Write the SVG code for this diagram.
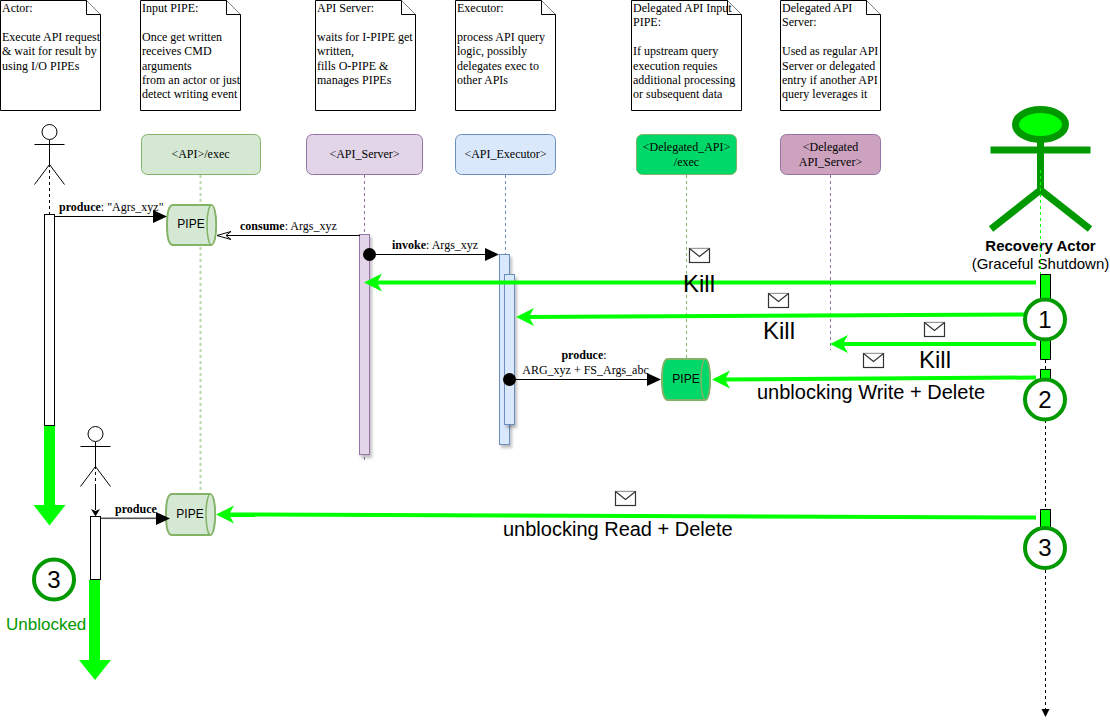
<svg xmlns="http://www.w3.org/2000/svg" width="1110" height="727" viewBox="0 0 1110 727">
<style>
.s{font-family:"Liberation Serif",serif;font-size:12px;fill:#000}
.h{font-family:"Liberation Serif",serif;font-size:12px;fill:#000;text-anchor:middle}
.p{font-family:"Liberation Sans",sans-serif;font-size:12px;fill:#000;text-anchor:middle}
.big{font-family:"Liberation Sans",sans-serif;font-size:24px;fill:#000}
.mid{font-family:"Liberation Sans",sans-serif;font-size:20px;fill:#000}
.num{font-family:"Liberation Sans",sans-serif;font-size:24px;fill:#000;text-anchor:middle}
.note{fill:#fff;stroke:#000;stroke-width:1}
.ln{fill:none;stroke:#000;stroke-width:1}
.gr{fill:none;stroke:#00ff00;stroke-width:4}
.gh{fill:#00ff00}
.c{fill:#fff;stroke:#009900;stroke-width:4}
.act{stroke:#000;stroke-width:1}
.msg{fill:#fff;stroke:#333;stroke-width:1.2}
text b,.b{font-weight:bold}
</style>
<defs>
<filter id="sh" x="-50%" y="-10%" width="220%" height="130%"><feDropShadow dx="2" dy="3" stdDeviation="1.5" flood-color="#000" flood-opacity="0.25"/></filter>
<g id="env"><rect x="0.5" y="0.5" width="20" height="14" class="msg"/><path d="M0.5 0.5L10.5 8.5L20.5 0.5" class="msg" fill="none"/></g>
</defs>

<g id="lifelines" fill="none">
<path d="M200.5 175V494" stroke="#b9d7ac" stroke-width="2" stroke-dasharray="3 3"/>
<path d="M364.5 175V460" stroke="#9673a6" stroke-dasharray="3 3"/>
<path d="M505.5 175V255" stroke="#6c8ebf" stroke-dasharray="3 3"/>
<path d="M686.5 175V359" stroke="#82b366" stroke-dasharray="3 3"/>
<path d="M830.5 175V350" stroke="#9673a6" stroke-dasharray="3 3"/>
<path d="M49.5 164V214" stroke="#000" stroke-dasharray="3 3"/>
<path d="M95.5 466V488" stroke="#000" stroke-dasharray="3 3"/>
</g>

<g id="note-actor"><path class="note" d="M0.5 0.5H86.5L100.5 14.5V110.5H0.5Z"/><path class="note" d="M86.5 0.5V14.5H100.5"/>
<text class="s" x="2" y="12">Actor:</text><text class="s" x="2" y="41">Execute API request</text><text class="s" x="2" y="55">&amp; wait for result by</text><text class="s" x="2" y="70">using I/O PIPEs</text></g>
<g id="note-input-pipe"><path class="note" d="M140.5 0.5H226.5L240.5 14.5V110.5H140.5Z"/><path class="note" d="M226.5 0.5V14.5H240.5"/>
<text class="s" x="142" y="12">Input PIPE:</text><text class="s" x="142" y="41">Once get written</text><text class="s" x="142" y="55">receives CMD</text><text class="s" x="142" y="70">arguments</text><text class="s" x="142" y="84">from an actor or just</text><text class="s" x="142" y="98">detect writing event</text></g>
<g id="note-api-server"><path class="note" d="M315.5 0.5H401.5L415.5 14.5V110.5H315.5Z"/><path class="note" d="M401.5 0.5V14.5H415.5"/>
<text class="s" x="317" y="12">API Server:</text><text class="s" x="317" y="41">waits for I-PIPE get</text><text class="s" x="317" y="55">written,</text><text class="s" x="317" y="70">fills O-PIPE &amp;</text><text class="s" x="317" y="84">manages PIPEs</text></g>
<g id="note-executor"><path class="note" d="M455.5 0.5H541.5L555.5 14.5V110.5H455.5Z"/><path class="note" d="M541.5 0.5V14.5H555.5"/>
<text class="s" x="457" y="12">Executor:</text><text class="s" x="457" y="41">process API query</text><text class="s" x="457" y="55">logic, possibly</text><text class="s" x="457" y="70">delegates exec to</text><text class="s" x="457" y="84">other APIs</text></g>
<g id="note-delegated-pipe"><path class="note" d="M631.5 0.5H727.5L741.5 14.5V110.5H631.5Z"/><path class="note" d="M727.5 0.5V14.5H741.5"/>
<text class="s" x="633" y="12">Delegated API Input</text><text class="s" x="633" y="26">PIPE:</text><text class="s" x="633" y="55">If upstream query</text><text class="s" x="633" y="70">execution requies</text><text class="s" x="633" y="84">additional processing</text><text class="s" x="633" y="98">or subsequent data</text></g>
<g id="note-delegated-server"><path class="note" d="M780.5 0.5H866.5L880.5 14.5V110.5H780.5Z"/><path class="note" d="M866.5 0.5V14.5H880.5"/>
<text class="s" x="782" y="12">Delegated API</text><text class="s" x="782" y="26">Server:</text><text class="s" x="782" y="55">Used as regular API</text><text class="s" x="782" y="70">Server or delegated</text><text class="s" x="782" y="84">entry if another API</text><text class="s" x="782" y="98">query leverages it</text></g>

<g id="hdr-api"><rect x="141.5" y="134.5" width="119" height="40" rx="6" fill="#d5e8d4" stroke="#82b366"/><text class="h" x="200.5" y="158">&lt;API&gt;/exec</text></g>
<g id="hdr-server"><rect x="306.5" y="134.5" width="116" height="40" rx="6" fill="#e1d5e7" stroke="#9673a6"/><text class="h" x="364.5" y="158">&lt;API_Server&gt;</text></g>
<g id="hdr-executor"><rect x="455.5" y="134.5" width="100" height="40" rx="6" fill="#dae8fc" stroke="#6c8ebf"/><text class="h" x="505.5" y="158">&lt;API_Executor&gt;</text></g>
<g id="hdr-delegated-api"><rect x="636.5" y="134.5" width="100" height="40" rx="6" fill="#00d96a" stroke="#82b366"/><text class="h" x="686.5" y="151">&lt;Delegated_API&gt;</text><text class="h" x="686.5" y="166">/exec</text></g>
<g id="hdr-delegated-server"><rect x="780.5" y="134.5" width="100" height="40" rx="6" fill="#cda2be" stroke="#9673a6"/><text class="h" x="830.5" y="151">&lt;Delegated</text><text class="h" x="830.5" y="166">API_Server&gt;</text></g>

<g id="actor"><circle cx="49.5" cy="132" r="7.5" class="ln"/><path class="ln" d="M49.5 140V164M34.5 144.5H64.5M34.5 184.5L49.5 164.5L64.5 184.5"/></g>
<g id="actor-activation"><rect x="44.5" y="214.5" width="10" height="211" fill="#fff" class="act"/></g>
<g id="actor2"><circle cx="95.5" cy="434" r="7.5" class="ln"/><path class="ln" d="M95.5 442V466M80.5 446.5H110.5M80.5 486.5L95.5 466.5L110.5 486.5"/></g>
<g id="actor2-activation"><rect x="90.5" y="516.5" width="10" height="63" fill="#fff" class="act"/></g>

<g id="server-activation"><rect x="359.5" y="234.5" width="10" height="220" fill="#e1d5e7" stroke="#9673a6" filter="url(#sh)"/></g>
<g id="executor-activation"><rect x="499.5" y="254.5" width="10" height="190" fill="#dae8fc" stroke="#6c8ebf" filter="url(#sh)"/><rect x="504.5" y="274.5" width="10" height="150" fill="#dae8fc" stroke="#6c8ebf" filter="url(#sh)"/></g>

<g id="pipe-1"><path d="M173 205H210Q216 205 216 225Q216 245 210 245H173Q167 245 167 225Q167 205 173 205Z" fill="#d5e8d4" stroke="#82b366" stroke-width="2"/><ellipse cx="211.5" cy="225" rx="4.5" ry="20" fill="#d5e8d4" stroke="#82b366" stroke-width="1.5"/><text class="p" x="191" y="228">PIPE</text></g>
<g id="pipe-2"><path d="M172 494H209Q215 494 215 514.5Q215 535 209 535H172Q166 535 166 514.5Q166 494 172 494Z" fill="#d5e8d4" stroke="#82b366" stroke-width="2"/><ellipse cx="210.500" cy="514.500" rx="4.500" ry="20.500" fill="#d5e8d4" stroke="#82b366" stroke-width="1.500"/><text class="p" x="190" y="518">PIPE</text></g>
<g id="pipe-3"><path d="M668 359H704Q710 359 710 379.500Q710 400 704 400H668Q662 400 662 379.500Q662 359 668 359Z" fill="#00d96a" stroke="#82b366" stroke-width="2"/><ellipse cx="705.500" cy="379.500" rx="4.500" ry="20.500" fill="#00d96a" stroke="#82b366" stroke-width="1.500"/><text class="p" x="686" y="383">PIPE</text></g>

<g id="recovery-actor"><ellipse cx="1040.500" cy="124.500" rx="25" ry="15" fill="#00ff00" stroke="#009900" stroke-width="7"/><path d="M1040.500 140V190M990.500 150H1090.500M991 229L1040.500 190L1090 229" fill="none" stroke="#009900" stroke-width="7"/>
<text x="1040.500" y="251" text-anchor="middle" font-family="Liberation Sans, sans-serif" font-size="15" font-weight="bold">Recovery Actor</text><text x="1040.500" y="269" text-anchor="middle" font-family="Liberation Sans, sans-serif" font-size="15">(Graceful Shutdown)</text></g>

<g id="connectors">
<path d="M1040.500 170V275" stroke="#00ff00" stroke-dasharray="3 3" fill="none"/>
<path d="M1045.500 360V369M1045.500 420V710" stroke="#000" stroke-dasharray="3 3" fill="none"/><path d="M1041.500 709H1049.500L1045.500 717Z" fill="#000"/>
<path d="M95.500 487V510" stroke="#000" fill="none"/><path d="M91 509L95.500 511L100 509L95.500 516.500Z" fill="#000"/>
<path d="M54 216.500H155" class="ln"/><path d="M153 210L167 216.500L153 223Z" fill="#000"/>
<path d="M360 235.500H218" class="ln"/><path d="M217 235.500L231 231.500L226 235.500L231 239.500Z" fill="#fff" stroke="#000"/>
<circle cx="369.500" cy="254.500" r="6.500" fill="#000"/><path d="M369.500 254.500H487" class="ln"/><path d="M485 248L499 254.500L485 261Z" fill="#000"/>
<circle cx="509.500" cy="379.500" r="6.500" fill="#000"/><path d="M509.500 379.500H650" class="ln"/><path d="M647 373L661 379.500L647 386Z" fill="#000"/>
<rect x="101" y="517.500" width="57" height="1.500" fill="#555" filter="url(#sh)"/><path d="M156 512L170 518.500L156 525Z" fill="#000"/>
<path d="M1036 282.500H372" class="gr"/><path d="M364 282.500L382 273.500L377 282.500L382 291.500Z" class="gh"/>
<path d="M1036 314.500L525 317" class="gr"/><path d="M516 317L534 308L529 317L534 326Z" class="gh"/>
<path d="M1036 344H839" class="gr"/><path d="M830 344L848 335L843 344L848 353Z" class="gh"/>
<path d="M1036 377.500L720 379.500" class="gr"/><path d="M712 379.500L730 370.500L725 379.500L730 388.500Z" class="gh"/>
<path d="M1036 517.500L225 514.500" class="gr"/><path d="M216 514.500L234 505.500L229 514.500L234 523.500Z" class="gh"/>
<path d="M49.500 426V506" stroke="#00ff00" stroke-width="11" fill="none"/><path d="M33.500 505H65.500L49.500 525.500Z" class="gh"/>
<path d="M94.500 580V661" stroke="#00ff00" stroke-width="11" fill="none"/><path d="M79 660H111L95 680Z" class="gh"/>
</g>

<g id="labels">
<text class="s" x="59" y="211"><tspan class="b">produce</tspan>: "Agrs_xyz"</text>
<text class="s" x="240" y="230"><tspan class="b">consume</tspan>: Args_xyz</text>
<text class="s" x="392" y="249"><tspan class="b">invoke</tspan>: Args_xyz</text>
<text class="h" x="584" y="359"><tspan class="b">produce</tspan>:</text>
<text class="h" x="585.500" y="374">ARG_xyz + FS_Args_abc</text>
<text class="s b" x="115" y="513">produce</text>
<text class="big" x="683" y="292">Kill</text>
<text class="big" x="763" y="339">Kill</text>
<text class="big" x="919" y="368">Kill</text>
<text class="mid" x="757" y="399">unblocking Write + Delete</text>
<text class="mid" x="503" y="536">unblocking Read + Delete</text>
<text x="6" y="629.500" font-family="Liberation Sans, sans-serif" font-size="17" fill="#009900">Unblocked</text>
</g>
<g id="envelopes">
<use href="#env" x="689" y="248"/><use href="#env" x="768" y="293"/><use href="#env" x="924" y="322"/><use href="#env" x="863" y="353"/><use href="#env" x="615" y="491"/>
</g>

<g id="recovery-activations">
<rect x="1040.500" y="274.500" width="10" height="85" fill="#00ff00" class="act"/>
<rect x="1040.500" y="369.500" width="10" height="30" fill="#00ff00" class="act"/>
<rect x="1040.500" y="509.500" width="10" height="30" fill="#00ff00" class="act"/>
</g>
<g id="step-1"><circle cx="1045" cy="319.500" r="20" class="c"/><text class="num" x="1045" y="328">1</text></g>
<g id="step-2"><circle cx="1045" cy="399.500" r="20" class="c"/><text class="num" x="1045" y="408">2</text></g>
<g id="step-3"><circle cx="1045" cy="548" r="20" class="c"/><text class="num" x="1045" y="556">3</text></g>
<g id="step-3b"><circle cx="54" cy="579.500" r="20" class="c"/><text class="num" x="54" y="588">3</text></g>
</svg>
